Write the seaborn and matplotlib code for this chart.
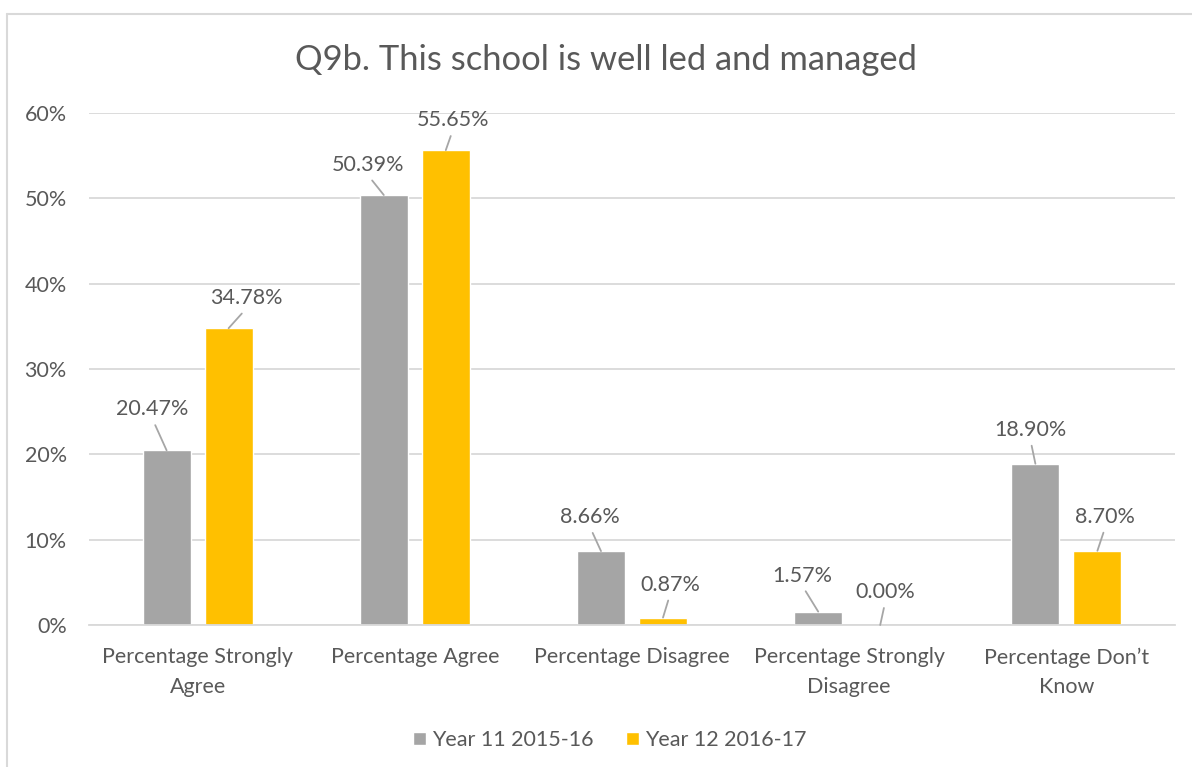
import pandas as pd
import matplotlib.pyplot as plt
import seaborn as sns
from matplotlib.lines import Line2D

# Chart data
categories = ['Percentage Strongly\nAgree', 'Percentage Agree', 'Percentage Disagree',
              'Percentage Strongly\nDisagree', 'Percentage Don\u2019t\nKnow']
series = ['Year 11 2015-16', 'Year 12 2016-17']
year11 = [20.47, 50.39, 8.66, 1.57, 18.90]
year12 = [34.78, 55.65, 0.87, 0.00, 8.70]
y_ticks = [0, 10, 20, 30, 40, 50, 60]

df = pd.DataFrame({
    'Category': categories * 2,
    'Series': [series[0]] * len(categories) + [series[1]] * len(categories),
    'Value': year11 + year12,
})

sns.set_theme(style='white')
plt.rcParams['font.family'] = ['Lato', 'DejaVu Sans']

text_col = '#595959'
grid_col = '#D9D9D9'
fs = 15.5

fig = plt.figure(figsize=(11.92, 7.67), dpi=100)
ax = fig.add_axes([89 / 1192, 1 - 625 / 767, (1175 - 89) / 1192, (625 - 113) / 767])

sns.barplot(data=df, x='Category', y='Value', hue='Series',
            palette=['#A5A5A5', '#FFC000'], width=0.571, gap=0.226,
            saturation=1, ax=ax)

ax.set_xlim(-0.5, 4.5)
ax.set_ylim(0, 60)
ax.set_yticks(y_ticks)
ax.set_yticklabels([f'{t}%' for t in y_ticks])
ax.set_xlabel('')
ax.set_ylabel('')
ax.yaxis.grid(True, color=grid_col, lw=1.3)
ax.set_axisbelow(True)
for s in ['top', 'right', 'left']:
    ax.spines[s].set_visible(False)
ax.spines['bottom'].set_color(grid_col)
ax.spines['bottom'].set_linewidth(1.3)
ax.tick_params(axis='y', length=0, pad=16, labelsize=fs, labelcolor=text_col)
ax.tick_params(axis='x', length=0, pad=16, labelsize=fs, labelcolor=text_col)
for lbl in ax.get_xticklabels():
    lbl.set_linespacing(1.6)

# data labels with leader lines (offsets in pixels, placed like Excel did)
offsets = [
    [(-14, 41), (-16, 30), (-11, 34), (-16, 36), (-5, 34)],
    [(18, 30), (7, 30), (7, 33), (5, 33), (8, 34)],
]
for cont, vals, offs in zip(ax.containers, [year11, year12], offsets):
    for bar, v, (dx, dy) in zip(cont, vals, offs):
        x = bar.get_x() + bar.get_width() / 2
        ax.annotate(f'{v:.2f}%', xy=(x, v), xytext=(dx, dy), textcoords='offset pixels',
                    ha='center', va='center', fontsize=fs, color=text_col,
                    arrowprops=dict(arrowstyle='-', color='#A6A6A6', lw=1.3,
                                    relpos=(0.5, 0), shrinkA=2, shrinkB=0))

sns.move_legend(ax, 'center', bbox_to_anchor=(0.4797, -0.2245), ncol=2, frameon=False,
                title=None, fontsize=fs, handlelength=0.6, handleheight=0.6,
                handletextpad=0.28, columnspacing=1.5)
for t in ax.get_legend().get_texts():
    t.set_color(text_col)

fig.text(606 / 1192, 1 - 60 / 767, 'Q9b. This school is well led and managed',
         ha='center', va='center', fontsize=24.8, color=text_col)

# chart area border (top and left edges visible)
fig.add_artist(Line2D([7.5 / 1192, 1], [1 - 13.5 / 767] * 2, transform=fig.transFigure,
                      color=grid_col, lw=1.5))
fig.add_artist(Line2D([7.5 / 1192] * 2, [0, 1 - 13.5 / 767], transform=fig.transFigure,
                      color=grid_col, lw=1.5))

fig.savefig('out.png', dpi=100)
